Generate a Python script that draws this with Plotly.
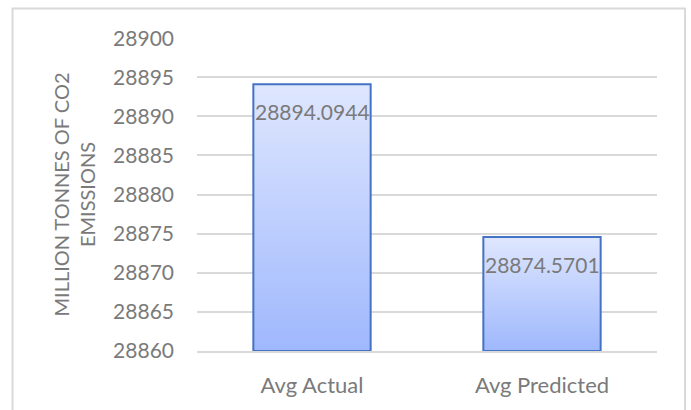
import plotly.graph_objects as go

categories = ["Avg Actual", "Avg Predicted"]
values = [28894.0944, 28874.5701]
labels = ["28894.0944", "28874.5701"]
y_ticks = [28860, 28865, 28870, 28875, 28880, 28885, 28890, 28895, 28900]
y_min, y_max = 28860, 28900

BAR_W = 0.51
FONT = "Lato"
GRAY = "#7a7a7a"

fig = go.Figure()

xs = list(range(len(categories)))
for i, v in zip(xs, values):
    fig.add_trace(go.Scatter(
        x=[i - BAR_W / 2, i + BAR_W / 2, i + BAR_W / 2, i - BAR_W / 2, i - BAR_W / 2],
        y=[y_min, y_min, v, v, y_min],
        fill="toself",
        mode="lines",
        line=dict(width=2, color="#4472c4"),
        fillgradient=dict(type="vertical",
                          colorscale=[[0, "#9fb8fd"], [1, "#dfe7fe"]],
                          start=y_min, stop=v),
        hoverinfo="skip",
        showlegend=False,
        cliponaxis=True,
    ))

for i, v, t in zip(xs, values, labels):
    fig.add_annotation(x=i, y=v, text=t, showarrow=False, yanchor="top",
                       yshift=-13, font=dict(family=FONT, size=21, color=GRAY))

fig.add_shape(type="rect", xref="paper", yref="paper",
              x0=-0.401, x1=1.061, y0=-0.25, y1=1.094,
              line=dict(color="#d9d9d9", width=2), fillcolor="rgba(0,0,0,0)",
              layer="below")

fig.update_layout(
    width=691, height=410,
    margin=dict(l=197, r=34, t=38, b=59),
    paper_bgcolor="white", plot_bgcolor="white",
    font=dict(family=FONT, color=GRAY),
    xaxis=dict(range=[-0.5, 1.5], tickvals=xs, ticktext=categories,
               showgrid=False, zeroline=False, showline=True,
               linecolor="#d9d9d9", linewidth=1.5,
               tickfont=dict(size=22, color=GRAY), ticklabelstandoff=14),
    yaxis=dict(range=[y_min, y_max + 0.02], tickvals=y_ticks, tickformat="d",
               showgrid=True, gridcolor="#d9d9d9", gridwidth=1.5,
               zeroline=False, tickfont=dict(size=21, color=GRAY),
               ticklabelstandoff=22,
               title=dict(text="MILLION TONNES OF CO2<br>EMISSIONS",
                          font=dict(size=20, color=GRAY), standoff=12)),
)

fig.write_html("out.html")
